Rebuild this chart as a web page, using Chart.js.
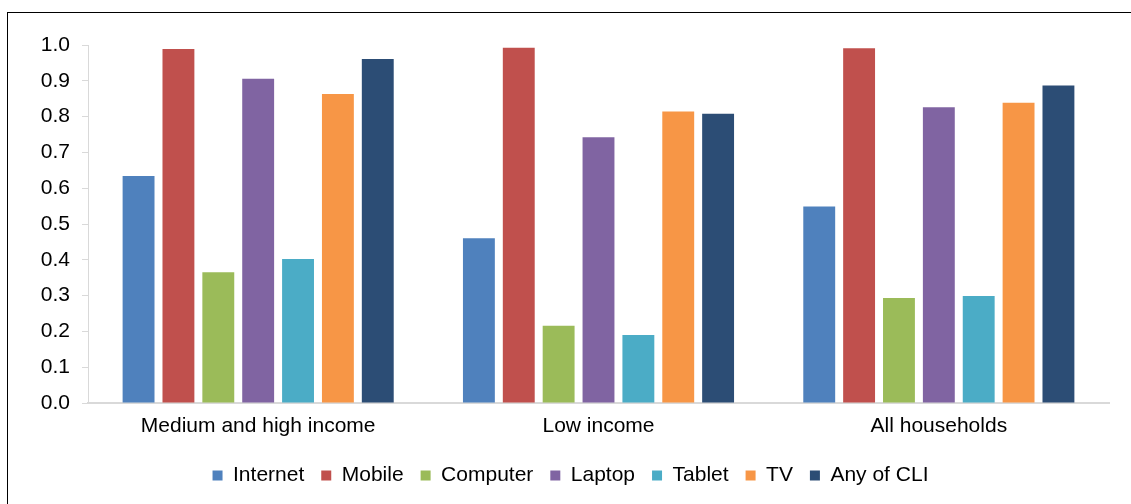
<!DOCTYPE html>
<html>
<head>
<meta charset="utf-8">
<script src="https://cdn.jsdelivr.net/npm/chart.js@4"></script>
<style>
  html, body { margin: 0; padding: 0; background: #fff; overflow: hidden; }
  #wrap { position: relative; width: 1131px; height: 504px; }
  #frame { position: absolute; left: 7px; top: 12px; width: 1200px; height: 600px;
           border-top: 1.5px solid #000; border-left: 1.5px solid #000; box-sizing: border-box; }
  canvas { position: absolute; left: 0; top: 0; }
</style>
</head>
<body>
<div id="wrap">
  <div id="frame"></div>
  <canvas id="c" width="1131" height="504"></canvas>
</div>
<script>
const categories = ["Medium and high income", "Low income", "All households"];
const seriesNames = ["Internet", "Mobile", "Computer", "Laptop", "Tablet", "TV", "Any of CLI"];
const seriesColors = ["#4F81BD", "#C0504D", "#9BBB59", "#8064A2", "#4BACC6", "#F79646", "#2C4D75"];
const internet = [0.634, 0.460, 0.549];
const mobile   = [0.989, 0.992, 0.991];
const computer = [0.365, 0.216, 0.293];
const laptop   = [0.906, 0.742, 0.826];
const tablet   = [0.402, 0.190, 0.299];
const tv       = [0.863, 0.814, 0.839];
const anyCLI   = [0.961, 0.808, 0.887];
const yTicks = [0.0, 0.1, 0.2, 0.3, 0.4, 0.5, 0.6, 0.7, 0.8, 0.9, 1.0];

const values = [internet, mobile, computer, laptop, tablet, tv, anyCLI];
const datasets = seriesNames.map((n, i) => ({
  label: n,
  data: values[i],
  backgroundColor: seriesColors[i],
  borderWidth: 0,
  categoryPercentage: 0.82,
  barPercentage: 0.8
}));

const FONT = "'Liberation Sans', Arial, sans-serif";

const legendShift = {
  id: 'legendShift',
  afterLayout(chart) {
    if (chart.legend) { chart.legend.left += 16; chart.legend.right += 16; }
  }
};

new Chart(document.getElementById('c'), {
  type: 'bar',
  data: { labels: categories, datasets },
  plugins: [legendShift],
  options: {
    responsive: false,
    animation: false,
    layout: { padding: { top: 45, left: 0, right: 22, bottom: 8 } },
    plugins: {
      tooltip: { enabled: false },
      legend: {
        position: 'bottom',
        labels: {
          font: { family: FONT, size: 21 },
          color: '#000',
          boxWidth: 10,
          boxHeight: 10,
          padding: 17
        }
      }
    },
    scales: {
      x: {
        grid: { display: false, drawTicks: false },
        border: { display: true, color: '#d9d9d9', width: 2 },
        ticks: { font: { family: FONT, size: 21 }, color: '#000', padding: 11 },
        afterFit: (s) => { s.height = 45; }
      },
      y: {
        min: 0, max: 1,
        afterBuildTicks: (s) => { s.ticks = yTicks.map(v => ({ value: v })); },
        grid: { display: true, drawOnChartArea: false, drawTicks: true, tickLength: 6, color: '#d9d9d9' },
        border: { display: true, color: '#d9d9d9', width: 1 },
        ticks: { font: { family: FONT, size: 21 }, color: '#000', padding: 12,
                 callback: (v) => Number(v).toFixed(1) },
        afterFit: (s) => { s.width = 88; }
      }
    }
  }
});
</script>
</body>
</html>
